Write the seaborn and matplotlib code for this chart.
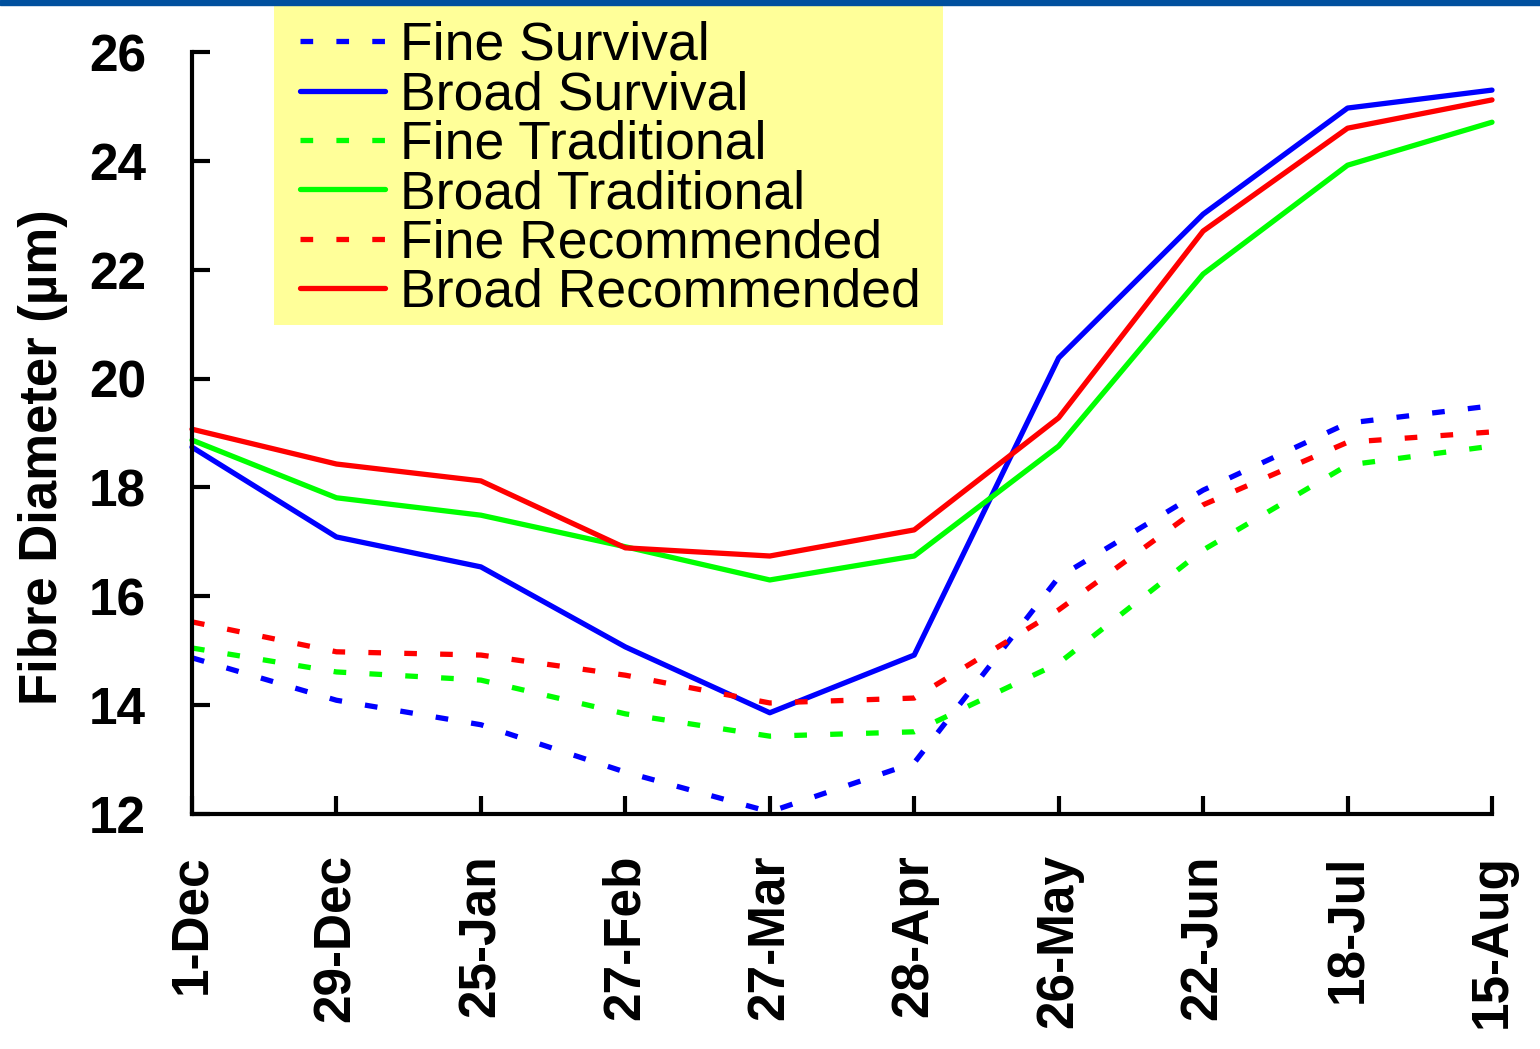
"""
Fibre diameter through the season for fine / broad sheep under three
management regimes (Survival, Traditional, Recommended).
"""
import pandas as pd
import matplotlib
matplotlib.use("Agg")
import matplotlib.pyplot as plt
from matplotlib.patches import Rectangle
import seaborn as sns

dates = ["1-Dec", "29-Dec", "25-Jan", "27-Feb", "27-Mar",
         "28-Apr", "26-May", "22-Jun", "18-Jul", "15-Aug"]

fine_survival = [14.87, 14.09, 13.64, 12.77, 12.04, 12.94, 16.35, 17.95, 19.18, 19.50]
broad_survival = [18.74, 17.09, 16.54, 15.07, 13.86, 14.92, 20.38, 23.02, 24.97, 25.30]
fine_traditional = [15.05, 14.61, 14.46, 13.84, 13.43, 13.51, 14.77, 16.85, 18.41, 18.76]
broad_traditional = [18.87, 17.81, 17.49, 16.91, 16.30, 16.74, 18.76, 21.92, 23.92, 24.71]
fine_recommended = [15.53, 14.98, 14.92, 14.55, 14.04, 14.13, 15.75, 17.68, 18.83, 19.02]
broad_recommended = [19.07, 18.43, 18.12, 16.89, 16.74, 17.22, 19.28, 22.71, 24.60, 25.12]

series_names = ["Fine Survival", "Broad Survival", "Fine Traditional",
                "Broad Traditional", "Fine Recommended", "Broad Recommended"]
series_values = [fine_survival, broad_survival, fine_traditional,
                 broad_traditional, fine_recommended, broad_recommended]

colors = {"Fine Survival": "#0000FF", "Broad Survival": "#0000FF",
          "Fine Traditional": "#00FF00", "Broad Traditional": "#00FF00",
          "Fine Recommended": "#FF0000", "Broad Recommended": "#FF0000"}
dash_map = {n: ((2.4, 4.4) if n.startswith("Fine") else "") for n in series_names}

rows = []
for name, vals in zip(series_names, series_values):
    for i, v in enumerate(vals):
        rows.append({"pos": i, "date": dates[i], "series": name, "diameter": v})
df = pd.DataFrame(rows)

sns.set_style("white")
plt.rcParams["font.family"] = ["Liberation Sans", "DejaVu Sans"]
plt.rcParams["text.color"] = "black"

W, H = 1540, 1049
fig = plt.figure(figsize=(W / 100, H / 100), dpi=100)
ax = fig.add_axes([192 / W, 235 / H, 1300 / W, 762 / H])

sns.lineplot(data=df, x="pos", y="diameter", hue="series", style="series",
             hue_order=series_names, style_order=series_names,
             palette=colors, dashes=dash_map, linewidth=3.8, sort=False,
             legend=False, clip_on=False, ax=ax)

ax.set_xlim(0, len(dates) - 1)
ax.set_ylim(12, 26)
ax.set_yticks(range(12, 27, 2))
ax.set_xticks(range(len(dates)))
ax.set_xticklabels(dates, rotation=90)
ax.set_xlabel("")
ax.set_ylabel("Fibre Diameter (µm)", fontsize=38, fontweight="bold",
              color="black", va="center")
ax.yaxis.set_label_coords(-0.1146, 0.4685)

for side in ["top", "right"]:
    ax.spines[side].set_visible(False)
for side in ["left", "bottom"]:
    ax.spines[side].set_linewidth(3)
    ax.spines[side].set_color("black")

ax.tick_params(axis="both", direction="in", length=13, width=3, color="black",
               labelcolor="black", labelsize=37, left=True, bottom=True)
ax.tick_params(axis="y", pad=33)
ax.tick_params(axis="x", pad=29)
for lab in ax.get_xticklabels() + ax.get_yticklabels():
    lab.set_fontweight("bold")

# yellow legend panel, drawn separately so its size matches the original
ax.add_patch(Rectangle((274 / W, 1 - 325 / H), (943 - 274) / W, 320 / H,
                       transform=fig.transFigure, facecolor="#FFFF99",
                       edgecolor="none", clip_on=False, zorder=6))

handles = ax.lines[:len(series_names)]
leg = ax.legend(handles, series_names, loc="upper left",
                bbox_to_anchor=(300 / W, 1 - 21 / H),
                bbox_transform=fig.transFigure, borderaxespad=0,
                fontsize=38.5, frameon=False, borderpad=0,
                handlelength=1.59, handletextpad=0.28, labelspacing=-0.012,
                labelcolor="black")
leg.set_zorder(7)

# dark blue band across the top
fig.patches.append(Rectangle((0, 1 - 5 / H), 1, 5 / H,
                             transform=fig.transFigure, color="#00509E",
                             zorder=5))

fig.savefig("out.png", dpi=100)
